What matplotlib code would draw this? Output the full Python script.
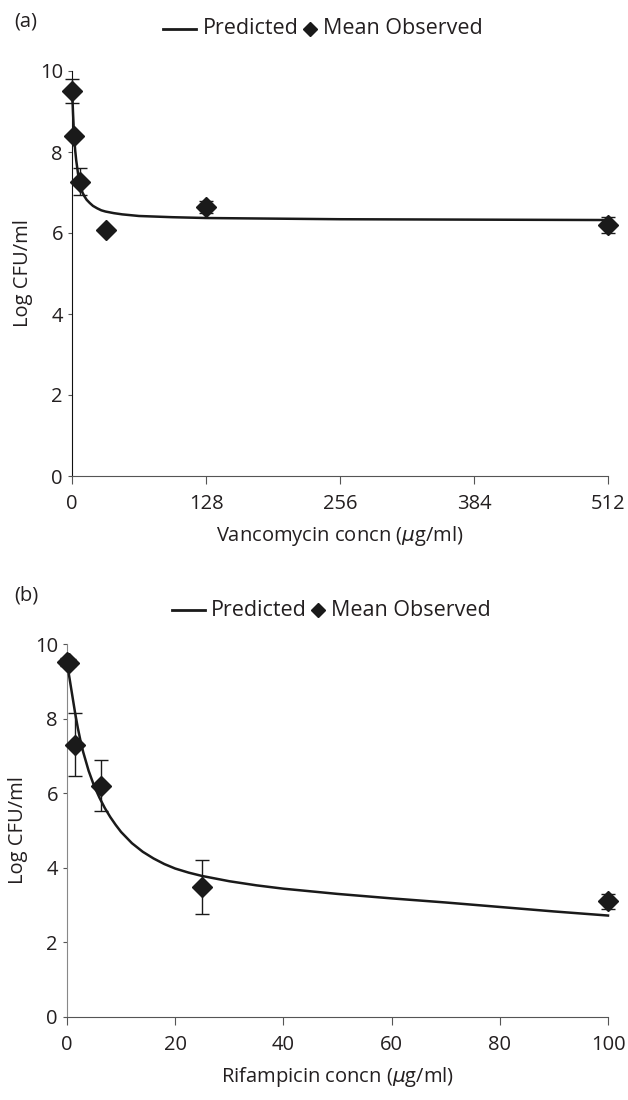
import numpy as np
import matplotlib.pyplot as plt
from matplotlib.lines import Line2D

plt.rcParams['font.family'] = ['Open Sans', 'DejaVu Sans']
plt.rcParams['font.size'] = 14
plt.rcParams['mathtext.fontset'] = 'dejavusans'

txt = '#231f20'
W, H = 628, 1100
FS = 14.5

# panel (a) vancomycin
van_conc = [0, 2, 8, 32, 128, 512]
van_mean = [9.5, 8.4, 7.27, 6.08, 6.65, 6.2]
van_err = [0.3, 0.0, 0.33, 0.0, 0.15, 0.2]
van_pred_x = [0, 1, 2, 3, 4, 6, 8, 10, 12, 14, 17, 20, 24, 28, 32, 40, 48, 64,
              96, 128, 256, 384, 512]
van_pred_y = [9.6, 8.95, 8.4, 8.05, 7.8, 7.42, 7.17, 7.0, 6.9, 6.82, 6.74, 6.67,
              6.61, 6.56, 6.53, 6.49, 6.46, 6.42, 6.39, 6.37, 6.34, 6.33, 6.32]

# panel (b) rifampicin
rif_conc = [0, 0.4, 1.56, 6.25, 25, 100]
rif_mean = [9.52, 9.5, 7.3, 6.2, 3.48, 3.1]
rif_err = [0.1, 0.1, 0.85, 0.68, 0.72, 0.2]
rif_pred_x = [0, 0.5, 1, 1.5, 2, 2.5, 3, 4, 5, 6, 7, 8, 9, 10, 12, 14, 16, 18,
              20, 22.5, 25, 30, 35, 40, 50, 60, 70, 80, 90, 100]
rif_pred_y = [9.5, 9.05, 8.6, 8.15, 7.75, 7.4, 7.1, 6.6, 6.2, 5.88, 5.6, 5.36,
              5.15, 4.96, 4.66, 4.43, 4.25, 4.1, 3.98, 3.87, 3.78, 3.64, 3.53,
              3.44, 3.3, 3.18, 3.07, 2.95, 2.83, 2.72]

fig = plt.figure(figsize=(6.28, 11), dpi=100)


def fx(p):
    return p / W


def fy(p):
    return 1 - p / H


def legend_row(y, x0, xtext, xdia, xtext2):
    # hand-placed legend: line, label, diamond, label
    fig.add_artist(Line2D([fx(x0), fx(x0 + 33)], [fy(y), fy(y)], color='#1a1a1a',
                          lw=2.0, transform=fig.transFigure))
    fig.text(fx(xtext), fy(y), 'Predicted', color=txt, fontsize=15.5, va='center')
    fig.add_artist(Line2D([fx(xdia)], [fy(y)], color='#1a1a1a', ls='none', marker='D',
                          ms=7, transform=fig.transFigure))
    fig.text(fx(xtext2), fy(y), 'Mean Observed', color=txt, fontsize=15.5, va='center')


def panel(rect, px, py, cx, cy, ce, xticks, xmax, xlabel, tag, tagy, spcol):
    ax = fig.add_axes(rect)
    ax.plot(px, py, color='#1a1a1a', lw=1.8, zorder=3, clip_on=False)
    ax.errorbar(cx, cy, yerr=ce, fmt='D', color='#1a1a1a', ms=10, ecolor='#1a1a1a',
                elinewidth=1.0, capsize=5, capthick=1.0, zorder=4, clip_on=False)
    ax.set_xlim(0, xmax)
    ax.set_ylim(0, 10)
    ax.set_xticks(xticks)
    ax.set_yticks([0, 2, 4, 6, 8, 10])
    ax.spines['top'].set_visible(False)
    ax.spines['right'].set_visible(False)
    ax.spines['left'].set_color(spcol)
    ax.spines['bottom'].set_color('#555555')
    ax.tick_params(axis='y', length=3, width=0.8, colors='#555555', labelcolor=txt,
                   labelsize=FS)
    ax.tick_params(axis='x', length=6, width=0.8, colors='#555555', labelcolor=txt,
                   labelsize=FS, pad=7)
    ax.set_ylabel('Log CFU/ml', color=txt, fontsize=FS, labelpad=5)
    ax.set_xlabel(xlabel, color=txt, fontsize=FS, labelpad=7)
    fig.text(0.022, tagy, tag, color=txt, fontsize=FS, va='center')
    return ax


panel([fx(72), fy(476), 536 / W, 405 / H],
      van_pred_x, van_pred_y, van_conc, van_mean, van_err,
      [0, 128, 256, 384, 512], 512, r'Vancomycin concn ($\mu$g/ml)',
      '(a)', fy(22), '#111111')
legend_row(29, 163, 203, 310, 323)

panel([fx(67), fy(1017), 541 / W, 373 / H],
      rif_pred_x, rif_pred_y, rif_conc, rif_mean, rif_err,
      [0, 20, 40, 60, 80, 100], 100, r'Rifampicin concn ($\mu$g/ml)',
      '(b)', fy(595), '#888888')
legend_row(610, 172, 211, 318, 331)

fig.savefig('out.png', dpi=100)
